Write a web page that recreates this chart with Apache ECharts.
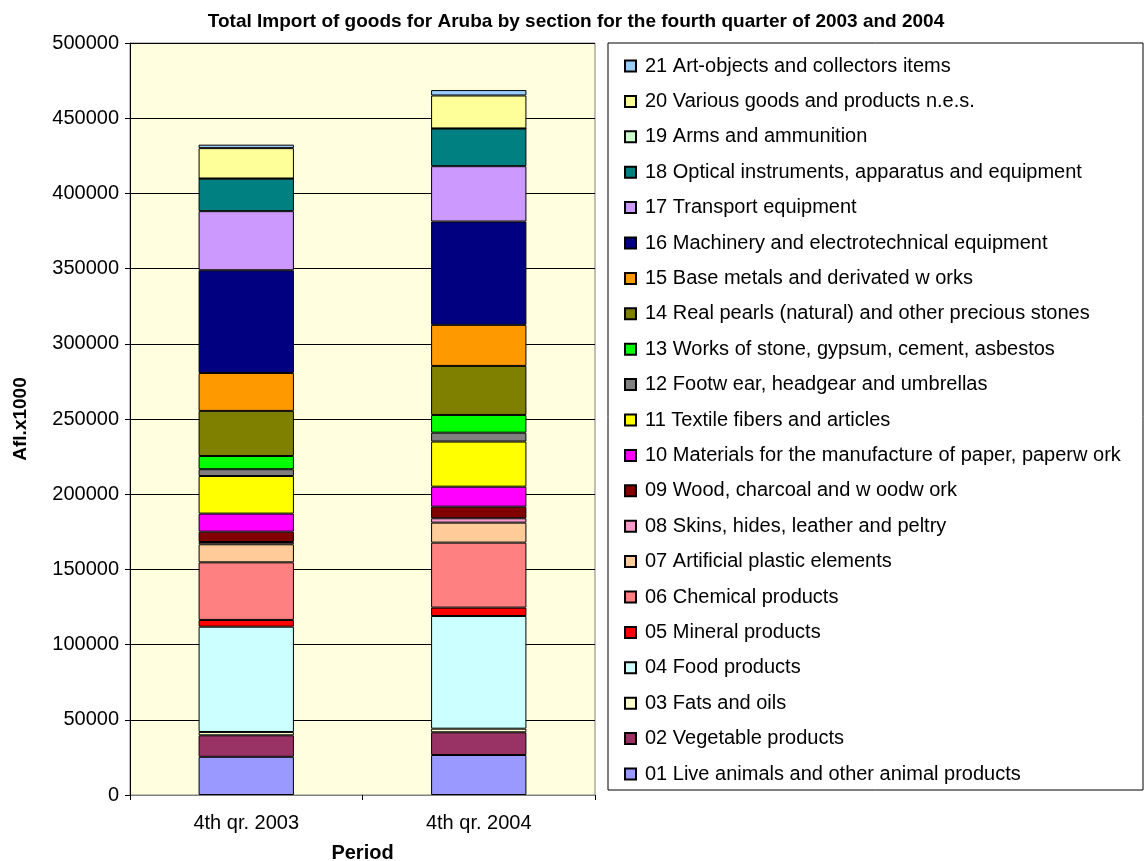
<!DOCTYPE html>
<html>
<head>
<meta charset="utf-8">
<script src="https://cdn.jsdelivr.net/npm/echarts@6/dist/echarts.min.js"></script>
<style>
  html, body { margin: 0; padding: 0; background: #fff; }
  #chart { width: 1146px; height: 861px; }
</style>
</head>
<body>
<div id="chart"></div>
<script>
// periods on the x axis
var periods = ["4th qr. 2003", "4th qr. 2004"];

// sections, bottom of the stack first
var sections = [
  "01 Live animals and other animal products",
  "02 Vegetable products",
  "03 Fats and oils",
  "04 Food products",
  "05 Mineral products",
  "06 Chemical products",
  "07 Artificial plastic elements",
  "08 Skins, hides, leather and peltry",
  "09 Wood, charcoal and w oodw ork",
  "10 Materials for the manufacture of paper, paperw ork",
  "11 Textile fibers and articles",
  "12 Footw ear, headgear and umbrellas",
  "13 Works of stone, gypsum, cement, asbestos",
  "14 Real pearls (natural) and other precious stones",
  "15 Base metals and derivated w orks",
  "16 Machinery and electrotechnical equipment",
  "17 Transport equipment",
  "18 Optical instruments, apparatus and equipment",
  "19 Arms and ammunition",
  "20 Various goods and products n.e.s.",
  "21 Art-objects and collectors items"
];

// Afl. x1000, same order as sections
var values2003 = [25400, 14300, 2200, 70000, 4500, 38300, 12000, 1500, 6900, 12000,
                  25000, 4500, 8800, 30000, 25200, 68300, 39300, 21600, 100, 20200, 2300];
var values2004 = [26600, 15100, 2400, 74900, 5600, 43200, 13300, 2900, 7700, 13300,
                  30000, 5900, 11800, 32600, 27300, 68700, 36800, 25000, 100, 21900, 3600];

var colors = ["#9999FF", "#993366", "#FFFFCC", "#CCFFFF", "#FF0000", "#FF8080", "#FFCC99",
              "#FF99CC", "#800000", "#FF00FF", "#FFFF00", "#808080", "#00FF00", "#808000",
              "#FF9900", "#000080", "#CC99FF", "#008080", "#CCFFCC", "#FFFF99", "#99CCFF"];

var chart = echarts.init(document.getElementById("chart"));

var series = sections.map(function (name, i) {
  return {
    name: name,
    type: "bar",
    stack: "total",
    barWidth: "41%",
    itemStyle: { color: colors[i], borderColor: "#000", borderWidth: 1 },
    emphasis: { disabled: true },
    data: [values2003[i], values2004[i]]
  };
});

var option = {
  animation: false,
  textStyle: { fontFamily: "Liberation Sans, Arial, sans-serif" },
  title: {
    text: "Total Import of goods for Aruba by section for the fourth quarter of 2003 and 2004",
    left: 571,
    textAlign: "center",
    top: 7,
    textStyle: { fontSize: 19, fontWeight: "bold", color: "#000" }
  },
  // legend frame
  graphic: [{
    type: "rect",
    shape: { x: 608, y: 43, width: 535, height: 747 },
    style: { fill: "#fff", stroke: "#000", lineWidth: 1 },
    z: -1
  }],
  grid: {
    left: 130,
    top: 43,
    width: 465,
    height: 752,
    outerBoundsMode: "none",
    show: true,
    backgroundColor: "#FFFFE0",
    borderColor: "#808080",
    borderWidth: 1
  },
  legend: {
    orient: "vertical",
    left: 608,
    top: 43,
    padding: [12.5, 5, 5, 16],
    itemWidth: 11,
    itemHeight: 11,
    itemGap: 14.4,
    icon: "rect",
    data: sections.slice().reverse(),
    textStyle: { fontSize: 20, color: "#000", lineHeight: 21, padding: [0, 0, 0, 4] }
  },
  xAxis: {
    type: "category",
    data: periods,
    name: "Period",
    nameLocation: "middle",
    nameGap: 48,
    nameTextStyle: { fontSize: 20, fontWeight: "bold", color: "#000" },
    axisLine: { lineStyle: { color: "#808080", width: 1 } },
    axisTick: { show: true, length: 5, lineStyle: { color: "#000" } },
    axisLabel: { fontSize: 20, color: "#000", margin: 18 }
  },
  yAxis: {
    type: "value",
    min: 0,
    max: 500000,
    interval: 50000,
    name: "Afl.x1000",
    nameLocation: "middle",
    nameGap: 100,
    nameTextStyle: { fontSize: 19, fontWeight: "bold", color: "#000" },
    axisLine: { show: true, lineStyle: { color: "#000", width: 1 } },
    axisTick: { show: true, length: 5, lineStyle: { color: "#000" } },
    axisLabel: {
      fontSize: 20, color: "#000", margin: 11,
      formatter: function (v) { return String(v); }
    },
    splitLine: { show: true, lineStyle: { color: "#000", width: 1 } }
  },
  series: series
};

chart.setOption(option);
</script>
</body>
</html>
